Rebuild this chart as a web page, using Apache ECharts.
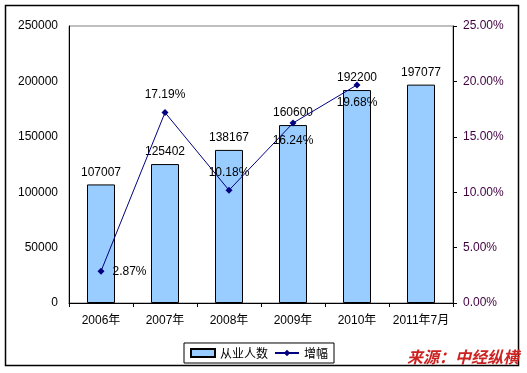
<!DOCTYPE html>
<html><head><meta charset="utf-8">
<script src="https://cdn.jsdelivr.net/npm/echarts@6/dist/echarts.min.js"></script>
<style>html,body{margin:0;padding:0;background:#fff}#c{width:527px;height:373px}</style>
</head><body><div id="c"></div>
<script>
var categories = ['2006年','2007年','2008年','2009年','2010年','2011年7月'];
var employees = [107007,125402,138167,160600,192200,197077];
var growth = [2.87,17.19,10.18,16.24,19.68,null];
var leftTicks = [0,50000,100000,150000,200000,250000];
var rightTicks = [0,5,10,15,20,25];
var growthLabelPos = ['right','top','top','bottom','bottom','top'];

var font = '"Liberation Sans", Arial, "Noto Sans CJK SC", sans-serif';
var chart = echarts.init(document.getElementById('c'));
chart.setOption({
  animation:false,
  textStyle:{fontFamily:font},
  grid:{left:69,right:74,top:26,bottom:70,show:true,borderColor:'#808080',borderWidth:1},
  graphic:[
    {type:'rect',shape:{x:5.5,y:5.5,width:513,height:360},style:{fill:'none',stroke:'#000',lineWidth:1.5},z:-1},
    {type:'text',right:8,top:349,style:{text:'来源：中经纵横',fill:'#cc2222',font:'italic bold 16px "Noto Sans CJK SC", sans-serif'},z:100}
  ],
  legend:{
    bottom:10,left:184,
    itemWidth:24,itemHeight:8,itemGap:6,
    borderColor:'#000',borderWidth:1,borderRadius:0,padding:[4,6,4,6],
    textStyle:{fontSize:12,color:'#000',fontFamily:'"Noto Sans CJK SC", sans-serif'},
    data:[{name:'从业人数',icon:'rect'},{name:'增幅'}]
  },
  xAxis:{
    type:'category',data:categories,
    axisLine:{lineStyle:{color:'#000',width:1}},
    axisTick:{show:true,length:4,lineStyle:{color:'#000'}},
    axisLabel:{color:'#000',fontSize:12,margin:12,interval:0,fontFamily:font}
  },
  yAxis:[
    {type:'value',min:leftTicks[0],max:leftTicks[leftTicks.length-1],interval:50000,
     axisLine:{show:true,lineStyle:{color:'#000'}},
     axisTick:{show:false},
     splitLine:{show:false},
     axisLabel:{color:'#000',fontSize:12,margin:11,formatter:function(v){return String(v);}}},
    {type:'value',min:rightTicks[0],max:rightTicks[rightTicks.length-1],interval:5,
     axisLine:{show:true,lineStyle:{color:'#000'}},
     axisTick:{show:true,length:4,lineStyle:{color:'#000'}},
     splitLine:{show:false},
     axisLabel:{color:'#400040',fontSize:12,margin:10,formatter:function(v){return v.toFixed(2)+'%';}}}
  ],
  series:[
    {name:'从业人数',type:'bar',data:employees,barWidth:28,
     itemStyle:{color:'#99ccff',borderColor:'#000',borderWidth:1},
     label:{show:true,position:'top',distance:6,color:'#000',fontSize:12}},
    {name:'增幅',type:'line',yAxisIndex:1,
     data:growth.map(function(v,i){return {value:v,label:{position:growthLabelPos[i]}};}),
     symbol:'diamond',symbolSize:7,
     lineStyle:{color:'#000080',width:1},
     itemStyle:{color:'#000080'},
     label:{show:true,color:'#000',fontSize:12,distance:8,formatter:function(p){return p.value.toFixed(2)+'%';}},
     z:5}
  ]
});
</script></body></html>
